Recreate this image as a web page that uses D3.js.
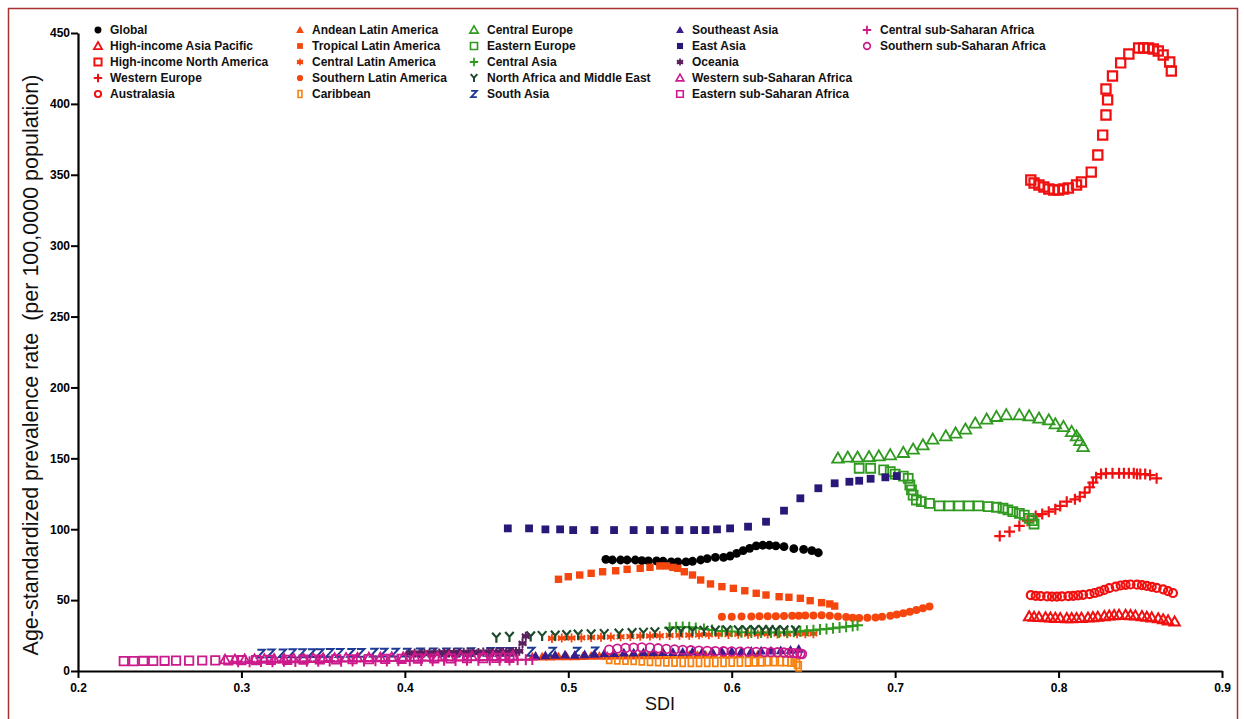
<!DOCTYPE html>
<html>
<head>
<meta charset="utf-8">
<script src="https://cdn.jsdelivr.net/npm/d3@7"></script>
<style>
  body { margin: 0; background: #fff; }
  svg { display: block; }
</style>
</head>
<body>
<svg id="chart" width="1244" height="719"></svg>
<script>
// ---- Axis ticks ----
const xTicks = [0.2, 0.3, 0.4, 0.5, 0.6, 0.7, 0.8, 0.9];
const yTicks = [0, 50, 100, 150, 200, 250, 300, 350, 400, 450];

// ---- Region names (legend order, column by column) ----
const regions = [
  "Global", "High-income Asia Pacific", "High-income North America", "Western Europe", "Australasia",
  "Andean Latin America", "Tropical Latin America", "Central Latin America", "Southern Latin America", "Caribbean",
  "Central Europe", "Eastern Europe", "Central Asia", "North Africa and Middle East", "South Asia",
  "Southeast Asia", "East Asia", "Oceania", "Western sub-Saharan Africa", "Eastern sub-Saharan Africa",
  "Central sub-Saharan Africa", "Southern sub-Saharan Africa"
];

// ---- SDI and age-standardised prevalence rate per region ----
const globalSdi = [0.523,0.527,0.532,0.536,0.541,0.545,0.549,0.554,0.558,0.563,0.567,0.572,0.576,0.581,0.585,0.590,0.595,0.599,0.603,0.607,0.611,0.615,0.619,0.623,0.627,0.632,0.638,0.644,0.649,0.653];
const globalRate = [78.8,78.3,78.3,78.3,78.3,77.8,77.6,77.6,77.4,76.9,76.9,76.9,77.4,78.3,79.2,80.2,80.2,81.1,83.0,84.9,86.5,88.2,88.7,88.7,88.2,87.7,86.3,85.8,84.9,83.4];

const hiapSdi = [0.782,0.785,0.788,0.792,0.795,0.798,0.801,0.805,0.808,0.811,0.814,0.818,0.821,0.824,0.828,0.831,0.834,0.837,0.841,0.844,0.847,0.851,0.854,0.857,0.861,0.864,0.867,0.871];
const hiapRate = [38.5,38.2,38.0,37.8,37.6,37.4,37.3,37.2,37.2,37.3,37.4,37.6,37.9,38.2,38.6,39.0,39.3,39.5,39.5,39.3,39.0,38.6,38.2,37.7,37.1,36.4,35.6,34.8];

const hinaSdi = [0.783,0.785,0.788,0.791,0.794,0.797,0.800,0.803,0.806,0.811,0.814,0.820,0.824,0.827,0.829,0.830,0.829,0.833,0.838,0.843,0.849,0.852,0.855,0.858,0.861,0.864,0.868,0.869];
const hinaRate = [346.3,344.2,342.8,341.4,340.0,339.3,339.3,340.0,340.7,342.8,344.9,351.9,363.9,378.0,392.2,402.8,410.5,419.7,428.9,435.2,439.4,439.4,439.4,438.7,437.3,434.5,429.5,423.2];

const westEuSdi = [0.764,0.770,0.776,0.781,0.786,0.790,0.794,0.798,0.801,0.805,0.810,0.813,0.816,0.819,0.821,0.823,0.826,0.829,0.833,0.837,0.840,0.843,0.846,0.848,0.850,0.853,0.856,0.860];
const westEuRate = [95.2,98.3,102.3,106.0,109.3,110.7,112.4,114.1,116.4,119.4,121.1,122.9,125.8,129.6,132.8,136.6,138.9,139.4,139.4,139.4,139.4,139.4,139.4,138.9,138.9,138.9,138.2,135.9];

const australasiaSdi = [0.783,0.786,0.789,0.793,0.796,0.799,0.802,0.806,0.809,0.812,0.815,0.819,0.822,0.825,0.828,0.831,0.835,0.838,0.841,0.844,0.848,0.851,0.854,0.857,0.860,0.864,0.867,0.870];
const australasiaRate = [53.5,53.0,52.8,52.6,52.5,52.5,52.6,52.8,53.0,53.3,53.7,54.2,55.0,56.0,57.2,58.4,59.5,60.3,60.8,61.0,60.9,60.5,60.0,59.4,58.6,57.6,56.4,55.0];

const andeanSdi = [0.478,0.484,0.489,0.494,0.499,0.504,0.509,0.514,0.519,0.524,0.529,0.534,0.539,0.544,0.549,0.554,0.559,0.564,0.569,0.574,0.579,0.584,0.589,0.595,0.600,0.605,0.611,0.616];
const andeanRate = [10.0,10.1,10.0,10.2,10.3,10.2,10.4,10.5,10.5,10.6,10.7,10.7,10.8,10.9,11.0,11.0,11.1,11.2,11.2,11.3,11.3,11.4,11.4,11.5,11.5,11.6,11.6,11.7];

const tropicalSdi = [0.494,0.500,0.507,0.514,0.521,0.529,0.536,0.544,0.550,0.556,0.560,0.564,0.567,0.571,0.576,0.581,0.587,0.594,0.601,0.608,0.615,0.621,0.629,0.635,0.642,0.648,0.655,0.660,0.663];
const tropicalRate = [64.7,66.5,67.7,68.9,70.0,70.7,71.7,72.4,73.1,74.1,74.1,73.1,72.4,70.0,67.7,64.2,61.4,59.5,58.3,56.6,54.8,53.6,52.4,52.0,51.3,49.6,48.2,47.3,45.8];

const centralLaSdi = [0.490,0.496,0.502,0.508,0.514,0.520,0.526,0.532,0.538,0.544,0.550,0.556,0.562,0.568,0.574,0.580,0.586,0.592,0.598,0.604,0.610,0.616,0.622,0.628,0.634,0.640,0.645,0.650];
const centralLaRate = [23.0,23.2,23.3,23.5,23.7,23.8,24.0,24.2,24.4,24.5,24.7,24.9,25.0,25.2,25.3,25.5,25.6,25.7,25.8,25.9,26.0,26.0,26.1,26.1,26.2,26.2,26.3,26.3];

const southLaSdi = [0.594,0.600,0.606,0.612,0.617,0.622,0.627,0.632,0.637,0.641,0.645,0.650,0.655,0.660,0.665,0.670,0.674,0.678,0.683,0.688,0.692,0.697,0.701,0.705,0.709,0.713,0.717,0.721];
const southLaRate = [38.3,38.3,38.4,38.5,38.6,38.6,38.7,38.8,38.9,39.0,39.1,39.2,39.3,39.0,38.5,38.0,37.6,37.4,37.5,37.8,38.3,39.0,39.9,40.8,41.8,43.0,44.3,45.5];

const caribbeanSdi = [0.525,0.530,0.535,0.540,0.545,0.550,0.555,0.560,0.565,0.570,0.575,0.580,0.585,0.590,0.595,0.600,0.605,0.610,0.614,0.618,0.622,0.626,0.630,0.633,0.636,0.638,0.640,0.641];
const caribbeanRate = [8.5,8.2,8.0,7.8,7.5,7.2,7.0,6.8,6.6,6.5,6.5,6.4,6.4,6.5,6.5,6.6,6.6,6.7,6.8,6.8,6.9,6.9,7.0,6.9,6.8,6.6,5.0,3.2];

const centralEuSdi = [0.665,0.671,0.677,0.684,0.690,0.697,0.705,0.711,0.717,0.723,0.731,0.737,0.743,0.749,0.756,0.762,0.768,0.776,0.782,0.788,0.794,0.798,0.803,0.808,0.811,0.813,0.815];
const centralEuRate = [150.0,150.7,150.7,151.1,151.6,152.4,154.0,156.4,159.4,163.4,165.7,167.7,170.5,174.7,177.5,179.4,180.6,180.6,179.9,178.2,177.0,174.2,172.3,168.8,165.7,162.4,158.2];

const eastEuSdi = [0.678,0.685,0.693,0.697,0.700,0.705,0.708,0.709,0.710,0.711,0.713,0.716,0.721,0.727,0.733,0.739,0.745,0.751,0.757,0.762,0.766,0.769,0.772,0.776,0.779,0.782,0.784,0.785];
const eastEuRate = [143.0,143.0,141.8,140.6,138.9,137.5,135.9,131.2,127.7,124.1,120.6,119.4,118.3,116.4,116.4,116.4,116.4,116.4,115.9,115.5,114.8,113.6,112.4,111.2,110.0,107.7,106.0,103.7];

const centralAsiaSdi = [0.562,0.566,0.570,0.574,0.578,0.583,0.588,0.594,0.600,0.606,0.612,0.618,0.624,0.629,0.634,0.638,0.642,0.646,0.650,0.654,0.658,0.662,0.666,0.670,0.674,0.677];
const centralAsiaRate = [30.5,30.8,31.0,30.8,30.3,29.6,28.9,28.3,27.8,27.4,27.2,27.1,27.1,27.2,27.4,27.7,28.0,28.4,28.8,29.2,29.7,30.2,30.7,31.2,31.7,32.2];

const nameSdi = [0.456,0.464,0.477,0.484,0.492,0.499,0.506,0.514,0.522,0.531,0.539,0.546,0.553,0.562,0.569,0.576,0.583,0.590,0.597,0.604,0.609,0.614,0.619,0.623,0.627,0.632,0.639];
const nameRate = [23.5,24.0,24.3,24.6,24.8,25.2,25.5,25.8,26.0,26.3,26.6,26.9,27.2,27.6,27.9,28.1,28.3,28.4,28.5,28.6,28.6,28.7,28.7,28.7,28.6,28.6,28.5];

const southAsiaSdi = [0.312,0.318,0.325,0.331,0.337,0.343,0.348,0.354,0.360,0.367,0.373,0.381,0.387,0.394,0.401,0.409,0.417,0.425,0.432,0.440,0.452,0.458,0.464,0.477,0.490,0.505,0.516];
const southAsiaRate = [12.3,12.4,12.4,12.5,12.5,12.6,12.6,12.7,12.7,12.8,12.8,12.9,12.9,13.0,13.0,13.1,13.1,13.2,13.2,13.3,13.4,13.5,13.5,13.6,13.6,13.7,13.8];

const seAsiaSdi = [0.480,0.486,0.492,0.498,0.504,0.510,0.516,0.522,0.528,0.534,0.540,0.546,0.552,0.558,0.564,0.570,0.576,0.582,0.588,0.594,0.600,0.606,0.612,0.618,0.624,0.630,0.636,0.641];
const seAsiaRate = [10.6,10.9,11.2,11.4,11.3,11.6,12.0,12.4,12.6,12.8,12.9,13.0,13.1,13.2,13.3,13.4,13.5,13.6,13.7,13.8,13.9,14.0,14.1,14.2,14.3,14.5,14.8,15.5];

const eastAsiaSdi = [0.463,0.476,0.486,0.495,0.503,0.516,0.528,0.540,0.550,0.559,0.568,0.577,0.584,0.591,0.599,0.610,0.621,0.632,0.642,0.653,0.663,0.672,0.678,0.685,0.694,0.701];
const eastAsiaRate = [100.6,100.6,99.9,99.9,99.4,99.4,99.4,99.4,99.4,99.4,99.4,99.4,99.4,99.9,100.6,101.8,105.3,113.1,121.8,128.9,132.4,133.5,134.2,135.6,136.6,137.5];

const oceaniaSdi = [0.403,0.406,0.409,0.412,0.415,0.418,0.421,0.424,0.427,0.430,0.433,0.436,0.439,0.442,0.445,0.448,0.451,0.454,0.456,0.458,0.460,0.462,0.464,0.466,0.468,0.470,0.472,0.474];
const oceaniaRate = [12.5,12.6,12.4,12.7,12.5,12.8,12.6,12.9,12.7,13.0,12.8,13.1,12.9,13.2,13.0,13.3,13.1,13.4,13.2,13.5,13.3,13.6,13.4,13.7,13.6,14.0,19.5,24.5];

const westSsaSdi = [0.290,0.296,0.302,0.308,0.314,0.320,0.326,0.332,0.338,0.344,0.350,0.357,0.364,0.371,0.378,0.385,0.392,0.399,0.406,0.413,0.420,0.427,0.434,0.441,0.448,0.454,0.460,0.466];
const westSsaRate = [8.0,8.1,8.2,8.3,8.4,8.5,8.6,8.7,8.8,8.9,9.0,9.1,9.2,9.3,9.4,9.5,9.6,9.7,9.8,9.9,10.0,10.1,10.2,10.3,10.4,10.5,10.6,10.7];

const eastSsaSdi = [0.228,0.234,0.240,0.246,0.253,0.260,0.268,0.276,0.284,0.292,0.300,0.309,0.318,0.328,0.338,0.348,0.358,0.368,0.378,0.388,0.398,0.408,0.418,0.428,0.438,0.448,0.456,0.464];
const eastSsaRate = [7.0,7.0,7.1,7.1,7.2,7.3,7.3,7.4,7.5,7.5,7.6,7.7,7.8,7.9,8.0,8.1,8.2,8.3,8.4,8.5,8.6,8.7,8.8,8.9,9.0,9.1,9.2,9.3];

const centralSsaSdi = [0.298,0.305,0.312,0.319,0.326,0.333,0.340,0.347,0.354,0.361,0.368,0.375,0.382,0.389,0.396,0.403,0.410,0.417,0.424,0.431,0.438,0.445,0.452,0.458,0.464,0.469,0.474,0.478];
const centralSsaRate = [6.6,6.5,6.7,6.6,6.8,6.7,6.9,6.8,7.0,6.9,7.1,7.0,7.2,7.1,7.3,7.2,7.4,7.3,7.5,7.4,7.6,7.5,7.7,7.6,7.8,7.9,8.0,8.1];

const southSsaSdi = [0.525,0.530,0.535,0.540,0.545,0.550,0.555,0.560,0.565,0.570,0.575,0.580,0.585,0.590,0.595,0.600,0.605,0.610,0.615,0.620,0.624,0.628,0.632,0.635,0.638,0.640,0.642,0.643];
const southSsaRate = [15.0,15.8,16.3,16.5,16.6,16.4,16.0,15.6,15.2,14.9,14.6,14.4,14.2,14.0,13.9,13.8,13.7,13.6,13.5,13.4,13.3,13.2,13.0,12.8,12.6,12.4,12.2,12.0];

// ---- Marker styling per region ----
const RED = "#f01010", LATAM = "#f5460e", CARIB = "#f7820f", GREEN = "#2f9a1f",
      DKGREEN = "#1c4a2a", NAVY = "#1d3a95", PURPLE = "#3a1d8c", EASIA = "#2a1878",
      OCEAN = "#5a1f5e", MAGENTA = "#cc1a8c";

const styles = [
  { shape: "circle",     color: "#000000", r: 4.4 },
  { shape: "triOpen",    color: RED,   r: 5.2, sw: 2 },
  { shape: "squareOpen", color: RED,   r: 4.6, sw: 2.2 },
  { shape: "plus",       color: RED,   r: 5.5, sw: 2.2 },
  { shape: "circleOpen", color: RED,   r: 4.0, sw: 2.2 },
  { shape: "tri",        color: LATAM, r: 5.0 },
  { shape: "square",     color: LATAM, r: 3.7 },
  { shape: "asterisk",   color: LATAM, r: 4.5, sw: 1.8 },
  { shape: "circle",     color: LATAM, r: 4.0 },
  { shape: "rectTall",   color: CARIB, r: 4.5, sw: 1.8 },
  { shape: "triOpen",    color: GREEN, r: 5.8, sw: 1.8 },
  { shape: "squareOpen", color: GREEN, r: 4.5, sw: 1.8 },
  { shape: "plus",       color: GREEN, r: 5.5, sw: 2 },
  { shape: "Y",          color: DKGREEN, r: 5.0, sw: 2.2 },
  { shape: "Z",          color: NAVY,  r: 4.6, sw: 2 },
  { shape: "tri",        color: PURPLE, r: 5.0 },
  { shape: "square",     color: EASIA, r: 3.9 },
  { shape: "asterisk",   color: OCEAN, r: 4.6, sw: 2 },
  { shape: "triOpen",    color: MAGENTA, r: 5.0, sw: 1.8 },
  { shape: "squareOpen", color: MAGENTA, r: 4.2, sw: 1.8 },
  { shape: "plus",       color: MAGENTA, r: 5.5, sw: 2 },
  { shape: "circleOpen", color: MAGENTA, r: 4.3, sw: 1.8 }
];

const sdiLists = [globalSdi, hiapSdi, hinaSdi, westEuSdi, australasiaSdi,
  andeanSdi, tropicalSdi, centralLaSdi, southLaSdi, caribbeanSdi,
  centralEuSdi, eastEuSdi, centralAsiaSdi, nameSdi, southAsiaSdi,
  seAsiaSdi, eastAsiaSdi, oceaniaSdi, westSsaSdi, eastSsaSdi,
  centralSsaSdi, southSsaSdi];
const rateLists = [globalRate, hiapRate, hinaRate, westEuRate, australasiaRate,
  andeanRate, tropicalRate, centralLaRate, southLaRate, caribbeanRate,
  centralEuRate, eastEuRate, centralAsiaRate, nameRate, southAsiaRate,
  seAsiaRate, eastAsiaRate, oceaniaRate, westSsaRate, eastSsaRate,
  centralSsaRate, southSsaRate];

const series = regions.map((name, i) => ({
  name,
  style: styles[i],
  points: sdiLists[i].map((s, j) => ({ sdi: s, rate: rateLists[i][j] }))
}));

// ---- Marker geometry ----
function markerPath(shape, r) {
  const p = d3.path();
  switch (shape) {
    case "circle":
    case "circleOpen":
      p.moveTo(r, 0); p.arc(0, 0, r, 0, 2 * Math.PI); break;
    case "tri":
    case "triOpen":
      p.moveTo(0, -r); p.lineTo(r * 1.0, r * 0.75); p.lineTo(-r * 1.0, r * 0.75); p.closePath(); break;
    case "square":
    case "squareOpen":
      p.rect(-r, -r, 2 * r, 2 * r); break;
    case "rectTall":
      p.rect(-r * 0.55, -r, r * 1.1, r * 2); break;
    case "plus":
      p.moveTo(-r, 0); p.lineTo(r, 0); p.moveTo(0, -r); p.lineTo(0, r); break;
    case "asterisk":
      for (let k = 0; k < 3; k++) {
        const a = Math.PI / 2 + k * Math.PI / 3;
        p.moveTo(r * Math.cos(a), r * Math.sin(a));
        p.lineTo(-r * Math.cos(a), -r * Math.sin(a));
      }
      p.moveTo(-r * 0.85, 0); p.lineTo(r * 0.85, 0);
      break;
    case "Y":
      p.moveTo(-r * 0.85, -r); p.lineTo(0, -r * 0.05); p.lineTo(r * 0.85, -r);
      p.moveTo(0, -r * 0.05); p.lineTo(0, r); break;
    case "Z":
      p.moveTo(-r * 0.8, -r * 0.85); p.lineTo(r * 0.8, -r * 0.85);
      p.lineTo(-r * 0.8, r * 0.85); p.lineTo(r * 0.8, r * 0.85); break;
  }
  return p.toString();
}
const filledShapes = new Set(["circle", "tri", "square"]);
function applyMarkerStyle(sel, st, scale) {
  const filled = filledShapes.has(st.shape);
  sel.attr("fill", filled ? st.color : "none")
     .attr("stroke", filled ? "none" : st.color)
     .attr("stroke-width", filled ? 0 : (st.sw || 2) * scale)
     .attr("stroke-linejoin", "miter");
}

// ---- Scales & axes ----
const svg = d3.select("#chart");
const x = d3.scaleLinear().domain([0.2, 0.9]).range([78, 1222]);
const y = d3.scaleLinear().domain([0, 450]).range([671, 33]);

// outer frame
svg.append("rect")
  .attr("x", 8.5).attr("y", 8.5).attr("width", 1229).attr("height", 730)
  .attr("fill", "none").attr("stroke", "#a83232").attr("stroke-width", 1.5);

const tickFont = "'Liberation Sans', Arial, sans-serif";

const gx = svg.append("g").attr("transform", `translate(0,${y(0)})`)
  .call(d3.axisBottom(x).tickValues(xTicks).tickFormat(d3.format(".1f")).tickSize(7).tickSizeOuter(0));
const gy = svg.append("g").attr("transform", `translate(${x(0.2)},0)`)
  .call(d3.axisLeft(y).tickValues(yTicks).tickSize(7).tickSizeOuter(0));

[gx, gy].forEach(g => {
  g.select(".domain").attr("stroke", "#000").attr("stroke-width", 2.2);
  g.selectAll(".tick line").attr("stroke", "#000").attr("stroke-width", 2);
  g.selectAll(".tick text")
    .attr("fill", "#000")
    .style("font-family", tickFont)
    .style("font-size", "12px")
    .style("font-weight", "bold");
});
gx.selectAll(".tick text").attr("dy", "0.9em");
gy.selectAll(".tick text").attr("x", -8);

// axis titles
svg.append("text")
  .attr("x", 660).attr("y", 710)
  .attr("text-anchor", "middle")
  .style("font-family", tickFont).style("font-size", "18px").attr("fill", "#111")
  .text("SDI");

svg.append("text")
  .attr("transform", `translate(38,365) rotate(-90)`)
  .attr("text-anchor", "middle")
  .style("font-family", tickFont).style("font-size", "21.5px").style("white-space", "pre")
  .attr("fill", "#111")
  .text("Age-standardized prevalence rate  (per 100,0000 population)");

// ---- Data markers ----
const plot = svg.append("g");
series.forEach(s => {
  const d = markerPath(s.style.shape, s.style.r);
  const g = plot.append("g");
  g.selectAll("path")
    .data(s.points)
    .join("path")
    .attr("transform", p => `translate(${x(p.sdi)},${y(p.rate)})`)
    .attr("d", d)
    .call(sel => applyMarkerStyle(sel, s.style, 1));
});

// ---- Legend ----
const legendCols = [ { mx: 98, tx: 110 }, { mx: 300, tx: 312 }, { mx: 474, tx: 487 }, { mx: 680, tx: 692 }, { mx: 867, tx: 880 } ];
const legendRows = [30, 46, 62, 78, 94];
const legend = svg.append("g");
series.forEach((s, i) => {
  const col = legendCols[Math.floor(i / 5)];
  const ry = legendRows[i % 5];
  const lr = Math.min(s.style.r * 0.78, 4.2);
  legend.append("path")
    .attr("transform", `translate(${col.mx},${ry})`)
    .attr("d", markerPath(s.style.shape, lr))
    .call(sel => applyMarkerStyle(sel, s.style, 0.9));
  legend.append("text")
    .attr("x", col.tx).attr("y", ry).attr("dy", "0.35em")
    .style("font-family", tickFont).style("font-size", "12px").style("font-weight", "bold")
    .attr("fill", "#111")
    .text(s.name);
});
</script>
</body>
</html>
